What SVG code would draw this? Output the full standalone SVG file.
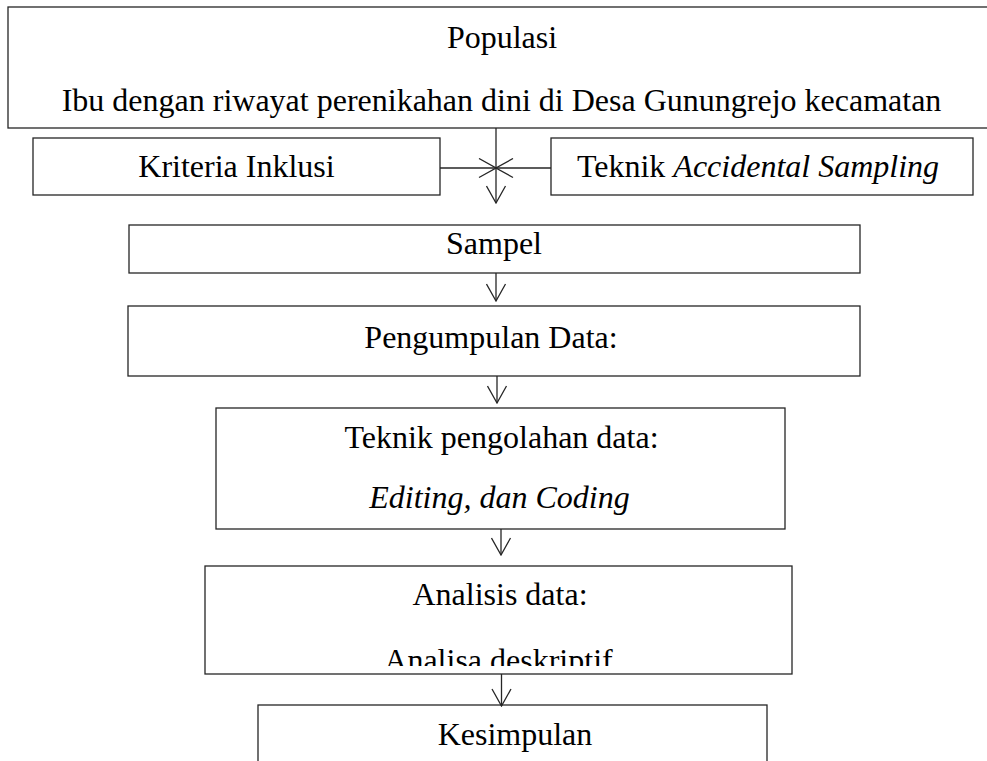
<svg xmlns="http://www.w3.org/2000/svg" width="987" height="761" viewBox="0 0 987 761">
<style>
.box{fill:#fff;stroke:#262626;stroke-width:1.3}
.t{font-family:"Liberation Serif","Times New Roman",serif;font-size:32px;fill:#000;text-anchor:middle}
.i{font-style:italic}
.c{fill:none;stroke:#262626;stroke-width:1.3}
</style>
<defs>
<marker id="arr" markerUnits="userSpaceOnUse" viewBox="0 0 19 21" markerWidth="19" markerHeight="21" refX="18" refY="10.5" orient="auto">
<path d="M1,1 L18,10.5 L1,20" fill="none" stroke="#262626" stroke-width="1.3"/>
</marker>
<clipPath id="clipA"><rect x="205" y="566" width="590" height="100"/></clipPath>
</defs>
<rect width="987" height="761" fill="#fff"/>
<g id="populasi">
<rect class="box" x="8" y="7" width="995" height="121"/>
<text class="t" x="502" y="48">Populasi</text>
<text class="t" x="501.5" y="111">Ibu dengan riwayat perenikahan dini di Desa Gunungrejo kecamatan</text>
</g>
<g id="kriteria">
<rect class="box" x="33" y="138" width="407" height="57"/>
<text class="t" x="236.5" y="177">Kriteria Inklusi</text>
</g>
<g id="teknik">
<rect class="box" x="551" y="138" width="422" height="57"/>
<text class="t" x="758" y="177">Teknik <tspan class="i">Accidental Sampling</tspan></text>
</g>
<g id="sampel">
<rect class="box" x="129" y="225" width="731" height="48"/>
<text class="t" x="494" y="254">Sampel</text>
</g>
<g id="pengumpulan">
<rect class="box" x="128" y="306" width="732" height="70"/>
<text class="t" x="491" y="348">Pengumpulan Data:</text>
</g>
<g id="pengolahan">
<rect class="box" x="216" y="408" width="569" height="121"/>
<text class="t" x="501.5" y="448">Teknik pengolahan data:</text>
<text class="t i" x="499.5" y="508">Editing, dan Coding</text>
</g>
<g id="analisis">
<rect class="box" x="205" y="566" width="587" height="108"/>
<text class="t" x="500" y="605">Analisis data:</text>
<text class="t" x="498.5" y="671" clip-path="url(#clipA)">Analisa deskriptif</text>
</g>
<g id="kesimpulan">
<rect class="box" x="258" y="705" width="509" height="70"/>
<text class="t" x="515" y="745">Kesimpulan</text>
</g>
<g id="connectors">
<path class="c" d="M496,128 L496,203" marker-end="url(#arr)"/>
<path class="c" d="M440,168 L496,168" marker-end="url(#arr)"/>
<path class="c" d="M551,168 L496,168" marker-end="url(#arr)"/>
<path class="c" d="M496,273 L496,301" marker-end="url(#arr)"/>
<path class="c" d="M497,376 L497,403" marker-end="url(#arr)"/>
<path class="c" d="M501,529 L501,555" marker-end="url(#arr)"/>
<path class="c" d="M501.5,674 L501.5,706" marker-end="url(#arr)"/>
</g>
</svg>
